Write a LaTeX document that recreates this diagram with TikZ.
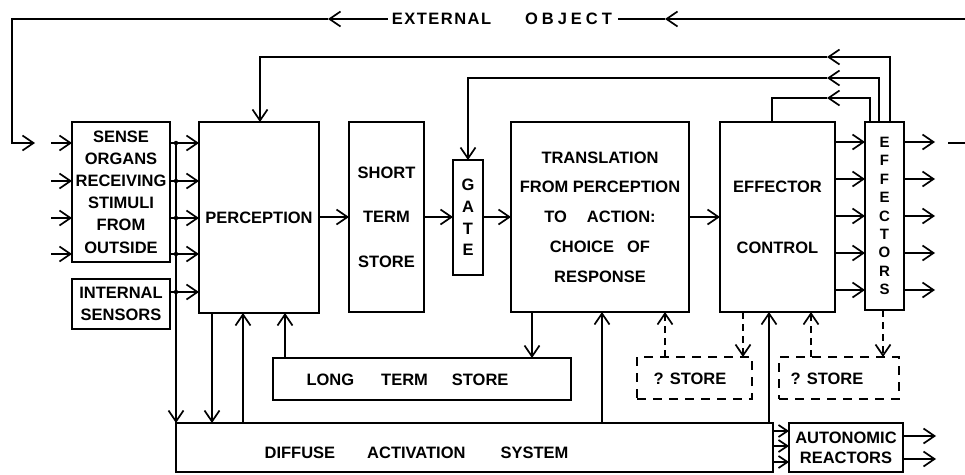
\documentclass[tikz,border=0pt]{standalone}
\usepackage{fontspec}
\setmainfont{Liberation Sans}
\usetikzlibrary{arrows.meta}
\begin{document}
\begin{tikzpicture}[x=1pt,y=-1pt, line width=1.7pt,
  box/.style={draw, inner sep=0pt, outer sep=0pt, align=center, font=\fontsize{16.5}{22.2}\selectfont\bfseries},
  dbox/.style={draw, inner sep=0pt, outer sep=0pt, dash pattern=on 9pt off 7pt},
  arr/.style={-{Straight Barb[length=11pt,width=15pt]}},
  sarr/.style={-{Straight Barb[length=9pt,width=12pt]}},
  darr/.style={arr, dash pattern=on 7pt off 5pt},
  lbl/.style={inner sep=0pt, outer sep=0pt, font=\fontsize{16.5}{20}\selectfont\bfseries},
  dot/.style={circle, fill, inner sep=0pt, minimum size=4.5pt}]
\useasboundingbox (0,0) rectangle (965,474);

% boxes
\node[box, minimum width=98pt, minimum height=140pt] (sense) at (121,192) {SENSE\\ORGANS\\RECEIVING\\STIMULI\\FROM\\OUTSIDE};
\node[box, minimum width=98pt, minimum height=50pt] (ints) at (121,304) {INTERNAL\\SENSORS};
\node[box, minimum width=120pt, minimum height=191pt] (perc) at (259,217.5) {PERCEPTION};
\node[box, minimum width=75pt, minimum height=190pt, font=\fontsize{16.5}{44.5}\selectfont\bfseries] (sts) at (386.5,217) {SHORT\\TERM\\STORE};
\node[box, minimum width=30pt, minimum height=115pt, font=\fontsize{16.5}{21.7}\selectfont\bfseries] (gate) at (468,217.5) {G\\A\\T\\E};
\node[box, minimum width=178pt, minimum height=190pt, font=\fontsize{16.5}{29.75}\selectfont\bfseries] (trans) at (600,217) {TRANSLATION\\FROM PERCEPTION\\TO\hspace{20pt}ACTION:\\CHOICE\hspace{13pt}OF\\RESPONSE};
\node[box, minimum width=115pt, minimum height=190pt, font=\fontsize{16.5}{61}\selectfont\bfseries] (effc) at (777.5,217) {EFFECTOR\\CONTROL};
\node[box, minimum width=39pt, minimum height=188pt, font=\fontsize{15}{18.4}\selectfont\bfseries] (eff) at (884.5,216) {E\\F\\F\\E\\C\\T\\O\\R\\S};
\node[box, minimum width=298pt, minimum height=42pt] (lts) at (422,379) {};
\node[lbl] (ltst) at (407.5,380) {LONG\hspace{27pt}TERM\hspace{24pt}STORE};
\node[dbox, minimum width=115pt, minimum height=42pt] (st1) at (694.5,378) {};
\node[lbl] (st1t) at (690,379) {? STORE};
\node[dbox, minimum width=120pt, minimum height=42pt] (st2) at (839,378) {};
\node[lbl] (st2t) at (827,379) {? STORE};
\node[box, minimum width=597pt, minimum height=49pt] (das) at (474.5,447.5) {};
\node[lbl] (dast) at (416.5,453) {DIFFUSE\hspace{32pt}ACTIVATION\hspace{35pt}SYSTEM};
\node[box, minimum width=114pt, minimum height=49pt, font=\fontsize{16.5}{20}\selectfont\bfseries] (auto) at (846,447.5) {AUTONOMIC\\REACTORS};

% external object loop
\node[lbl] (ext) at (441.5,19) {E\kern1.5pt X\kern1.5pt T\kern1.5pt E\kern1.5pt R\kern1.5pt N\kern1.5pt A\kern1.5pt L};
\node[lbl] (obj) at (568.5,19) {O\kern4pt B\kern4pt J\kern4pt E\kern4pt C\kern4pt T};
\coordinate (tr) at (965,19);
\coordinate (tl) at (12,19);
\coordinate (la) at (12,143);
\coordinate (lb) at (35,143);
\draw[arr] (tr) -- (665,19);
\draw (665,19) -- ([xshift=6pt]obj.east);
\draw[arr] ([xshift=-4pt]ext.west) -- (328,19);
\draw[arr] (328,19) -- (tl) -- (la) -- (lb);

% inputs to sense organs
\foreach \y in {143,181,218,254} {
  \coordinate (in\y) at (51,\y);
  \draw[arr] (in\y) -- (sense.west |- 0,\y);
}
% sense organs / internal sensors to perception
\foreach \y in {143,181,218,254} {
  \draw[arr] (sense.east |- 0,\y) -- (perc.west |- 0,\y);
  \node[dot] at (176,\y) {};
}
\draw[arr] (ints.east |- 0,292) -- (perc.west |- 0,292);
\node[dot] at (176,292) {};
\coordinate (bus) at (176,143);
\draw[arr] (bus) -- (das.north west);

% main chain
\draw[arr] (perc.east |- 0,217) -- (sts.west |- 0,217);
\draw[arr] (sts.east |- 0,217) -- (gate.west |- 0,217);
\draw[arr] (gate.east |- 0,217) -- (trans.west |- 0,217);
\draw[arr] (trans.east |- 0,217) -- (effc.west |- 0,217);
\foreach \y in {142,179,216,253,290} {
  \draw[arr] (effc.east |- 0,\y) -- (eff.west |- 0,\y);
  \coordinate (out\y) at (935,\y);
  \draw[arr] (eff.east |- 0,\y) -- (out\y);
}
\coordinate (rd1) at (948,143);
\coordinate (rd2) at (965,143);
\draw (rd1) -- (rd2);

% feedback loops
\draw[arr] (eff.north -| 890,0) -- (890,57) -- (827,57);
\draw[arr] (827,57) -- (260,57) -- (perc.north -| 260,0);
\draw[arr] (eff.north -| 879,0) -- (879,78) -- (827,78);
\draw[arr] (827,78) -- (468,78) -- (gate.north);
\draw[arr] (eff.north -| 870,0) -- (870,98) -- (827,98);
\draw (827,98) -- (772,98) -- (effc.north -| 772,0);

% lower connections
\draw[arr] (perc.south -| 212,0) -- (das.north -| 212,0);
\draw[arr] (das.north -| 243,0) -- (perc.south -| 243,0);
\draw[arr] (lts.north -| 285,0) -- (perc.south -| 285,0);
\draw[arr] (trans.south -| 532,0) -- (lts.north -| 532,0);
\draw[arr] (das.north -| 602,0) -- (trans.south -| 602,0);
\draw[darr] (st1.north -| 665,0) -- (trans.south -| 665,0);
\draw[darr] (effc.south -| 743,0) -- (st1.north -| 743,0);
\draw[arr] (das.north -| 769,0) -- (effc.south -| 769,0);
\draw[darr] (st2.north -| 811,0) -- (effc.south -| 811,0);
\draw[darr] (eff.south -| 883,0) -- (st2.north -| 883,0);

% autonomic
\foreach \y in {431,446,462} {
  \draw[sarr] (das.east |- 0,\y) -- (auto.west |- 0,\y);
}
\foreach \y in {436,459} {
  \coordinate (ao\y) at (936,\y);
  \draw[arr] (auto.east |- 0,\y) -- (ao\y);
}
\end{tikzpicture}
\end{document}
